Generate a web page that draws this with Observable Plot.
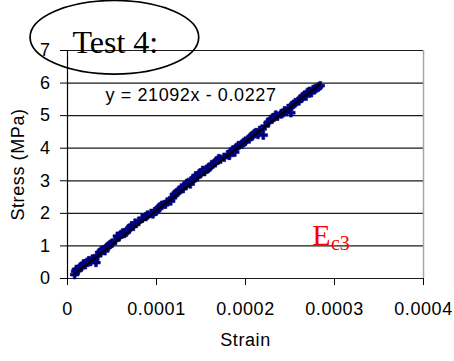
<!DOCTYPE html>
<html><head><meta charset="utf-8">
<script src="https://cdn.jsdelivr.net/npm/d3@7"></script>
<script src="https://cdn.jsdelivr.net/npm/@observablehq/plot@0.6"></script>
<style>
html,body{margin:0;padding:0;background:#fff}
#chart svg{display:block}
#chart .sans text, #chart text.sans{letter-spacing:0.6px}
</style>
</head><body><div id="chart"></div>
<script>
const strainMicro = [8, 9, 10, 12, 14, 16, 18, 20, 22, 24, 26, 28, 30, 32, 34, 36, 38, 40, 42, 44, 46, 48, 50, 54, 56, 58, 60, 62, 64, 66, 68, 70, 72, 74, 76, 80, 84, 88, 90, 94, 96, 98, 100, 102, 104, 106, 110, 112, 116, 118, 120, 122, 124, 126, 128, 130, 132, 134, 136, 138, 140, 142, 144, 146, 148, 150, 152, 154, 156, 158, 160, 162, 166, 168, 170, 172, 176, 180, 182, 184, 186, 188, 190, 192, 196, 198, 200, 204, 206, 208, 210, 212, 214, 216, 220, 222, 226, 228, 230, 232, 234, 236, 240, 242, 244, 246, 248, 251, 252, 254, 256, 260, 262, 264, 266, 268, 270, 272, 274, 276, 278, 280, 282, 284];
const stress = [0.12, 0.22, 0.28, 0.25, 0.33, 0.38, 0.45, 0.42, 0.50, 0.55, 0.52, 0.60, 0.58, 0.49, 0.70, 0.80, 0.85, 0.88, 0.85, 0.95, 1.00, 1.05, 1.08, 1.18, 1.30, 1.28, 1.35, 1.40, 1.38, 1.42, 1.50, 1.55, 1.62, 1.60, 1.70, 1.75, 1.85, 1.90, 1.95, 2.00, 1.98, 2.05, 2.08, 2.15, 2.20, 2.25, 2.28, 2.35, 2.38, 2.48, 2.58, 2.62, 2.65, 2.72, 2.78, 2.76, 2.85, 2.92, 2.95, 2.90, 3.00, 3.08, 3.15, 3.12, 3.22, 3.25, 3.32, 3.28, 3.35, 3.38, 3.42, 3.50, 3.55, 3.62, 3.68, 3.66, 3.72, 3.80, 3.78, 3.90, 3.95, 3.88, 4.02, 4.08, 4.12, 4.18, 4.22, 4.28, 4.35, 4.40, 4.45, 4.48, 4.42, 4.55, 4.40, 4.68, 4.80, 4.88, 4.90, 4.95, 5.02, 4.98, 5.05, 5.08, 5.15, 5.12, 5.22, 5.09, 5.30, 5.35, 5.40, 5.45, 5.52, 5.58, 5.62, 5.60, 5.72, 5.75, 5.70, 5.80, 5.82, 5.85, 5.88, 5.92];
const xTicks = [0, 0.0001, 0.0002, 0.0003, 0.0004];
const yTicks = [0, 1, 2, 3, 4, 5, 6, 7];
const trendSlope = 21092;
const trendIntercept = -0.0227;
const equationText = ["y = 21092x - 0.0227"];
const titleText = ["Test 4:"];
const modulusMain = ["E"];
const modulusSub = ["c3"];
const xLabel = ["Strain"];
const yLabel = ["Stress (MPa)"];

const points = strainMicro.map((s, i) => ({strain: s * 1e-6, stress: stress[i]}));
const trendEnds = [points[0].strain, points[points.length - 1].strain];
const trend = trendEnds.map(x => ({strain: x, stress: trendSlope * x + trendIntercept}));

// Ellipse annotation bounding box in data units
const ellipseStrain = [-0.0000415, 0.000148];
const ellipseStress = [6.26, 8.52];

function ellipseMark(index, scales) {
  const sx = scales.x, sy = scales.y;
  const x0 = sx(ellipseStrain[0]), x1 = sx(ellipseStrain[1]);
  const y0 = sy(ellipseStress[1]), y1 = sy(ellipseStress[0]);
  const e = document.createElementNS("http://www.w3.org/2000/svg", "ellipse");
  e.setAttribute("cx", (x0 + x1) / 2);
  e.setAttribute("cy", (y0 + y1) / 2);
  e.setAttribute("rx", Math.abs(x1 - x0) / 2);
  e.setAttribute("ry", Math.abs(y1 - y0) / 2);
  e.setAttribute("fill", "none");
  e.setAttribute("stroke", "#000");
  e.setAttribute("stroke-width", "1.7");
  const g = document.createElementNS("http://www.w3.org/2000/svg", "g");
  g.appendChild(e);
  return g;
}

const serif = "'Liberation Serif', 'Times New Roman', serif";
const chart = Plot.plot({
  width: 454,
  height: 361,
  marginLeft: 67,
  marginRight: 31,
  marginTop: 50,
  marginBottom: 83,
  style: {fontFamily: "Arial, 'Liberation Sans', sans-serif", fontSize: "18px", color: "#000", background: "#fff", overflow: "visible"},
  x: {domain: [0, 0.0004]},
  y: {domain: [0, 7]},
  marks: [
    Plot.ruleY(yTicks, {stroke: "#1a1a1a", strokeWidth: 1.2}),
    Plot.ruleX([0.0004], {stroke: "#a8a8a8", strokeWidth: 1.5}),
    Plot.ruleX([0], {stroke: "#000", strokeWidth: 1.2}),
    Plot.axisX(xTicks, {tickSize: 7, tickPadding: 17, tickFormat: d => d === 0 ? "0" : d.toFixed(4), label: null, fontSize: 18, className: "sans"}),
    Plot.axisY(yTicks, {tickSize: 7, tickPadding: 10, label: null, fontSize: 18, className: "sans"}),
    Plot.dot(points, {x: "strain", y: "stress", symbol: "cross", r: 3.6, fill: "#000080", stroke: "#000080", strokeWidth: 0.6}),
    Plot.line(trend, {x: "strain", y: "stress", stroke: "#000", strokeWidth: 2}),
    Plot.text(equationText, {x: 0.0000427, y: 5.46, text: d => d, textAnchor: "start", lineAnchor: "bottom", fontSize: 18, fill: "#000", className: "sans"}),
    Plot.text(xLabel, {frameAnchor: "bottom", dy: 62, text: d => d, lineAnchor: "middle", fontSize: 18, fill: "#000", className: "sans"}),
    Plot.text(yLabel, {frameAnchor: "left", dx: -49, rotate: -90, text: d => d, textAnchor: "middle", lineAnchor: "middle", fontSize: 18, fill: "#000", className: "sans"}),
    Plot.text(titleText, {x: 0.0000056, y: 6.93, text: d => d, textAnchor: "start", lineAnchor: "bottom", fontSize: 32, fontFamily: serif, fill: "#000"}),
    Plot.text(modulusMain, {x: 0.000275, y: 1.04, text: d => d, textAnchor: "start", lineAnchor: "bottom", fontSize: 30, fontFamily: serif, fill: "#ff0000"}),
    Plot.text(modulusSub, {x: 0.000296, y: 0.89, text: d => d, textAnchor: "start", lineAnchor: "bottom", fontSize: 20, fontFamily: serif, fill: "#ff0000"}),
    ellipseMark
  ]
});
document.getElementById("chart").appendChild(chart);
</script>
</body></html>
